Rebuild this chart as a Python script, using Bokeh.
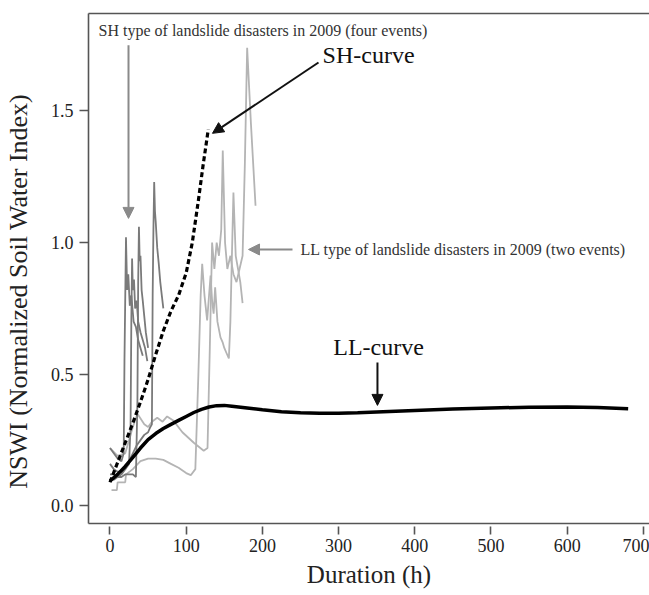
from bokeh.plotting import figure
from bokeh.models import Range1d, FixedTicker, LinearAxis, Label, Arrow, NormalHead, PrintfTickFormatter
from bokeh.embed import file_html
from bokeh.resources import INLINE

# ---------------- data ----------------
x_ticks = [0, 100, 200, 300, 400, 500, 600, 700]
y_ticks = [0.0, 0.5, 1.0, 1.5]

ll_curve_x = [0, 10, 20, 30, 40, 50, 60, 70, 80, 90, 100, 110, 120, 130, 140, 150, 160, 180,
              200, 225, 250, 275, 300, 325, 350, 375, 400, 450, 500, 550, 600, 640, 680]
ll_curve_y = [0.095, 0.12, 0.15, 0.185, 0.22, 0.252, 0.275, 0.294, 0.31, 0.325, 0.34, 0.355,
              0.367, 0.376, 0.381, 0.382, 0.379, 0.372, 0.365, 0.358, 0.354, 0.352, 0.352,
              0.354, 0.357, 0.36, 0.363, 0.368, 0.372, 0.375, 0.376, 0.374, 0.369]

sh_curve_x = [0, 10, 20, 30, 40, 50, 60, 70, 80, 90, 100, 108, 116, 122, 129]
sh_curve_y = [0.09, 0.165, 0.24, 0.315, 0.395, 0.48, 0.575, 0.665, 0.74, 0.80, 0.885, 1.0,
              1.16, 1.29, 1.43]

# SH type events (four)
sh1_x = [0, 5, 10, 15, 18, 19, 21, 22.5, 24, 26, 28, 31, 34, 37, 40, 43]
sh1_y = [0.22, 0.2, 0.18, 0.17, 0.2, 0.55, 1.02, 0.82, 0.88, 0.76, 0.8, 0.7, 0.68, 0.63, 0.6, 0.57]
sh2_x = [0, 5, 10, 15, 20, 25, 27, 28, 29, 30, 31.5, 33, 35, 37, 40, 43, 46, 49]
sh2_y = [0.16, 0.14, 0.13, 0.13, 0.14, 0.16, 0.3, 0.7, 0.94, 0.82, 0.86, 0.75, 0.78, 0.7,
         0.66, 0.63, 0.6, 0.55]
sh3_x = [0, 5, 10, 15, 20, 25, 30, 34, 36, 37, 38, 39, 40, 41.5, 43, 45, 47, 50]
sh3_y = [0.12, 0.12, 0.11, 0.11, 0.12, 0.12, 0.12, 0.11, 0.4, 0.85, 1.06, 0.93, 0.95, 0.82,
         0.78, 0.72, 0.66, 0.6]
sh4_x = [0, 5, 10, 15, 20, 25, 30, 35, 40, 45, 50, 53, 55, 56, 57, 58, 59, 60, 62, 64, 66, 68, 70]
sh4_y = [0.1, 0.1, 0.11, 0.12, 0.14, 0.17, 0.2, 0.23, 0.25, 0.27, 0.28, 0.3, 0.31, 0.8, 1.05,
         1.23, 1.12, 1.08, 0.98, 0.92, 0.85, 0.8, 0.75]

# LL type events (two)
ll1_x = [2, 9, 10, 20, 21, 30, 40, 50, 60, 70, 80, 90, 100, 106, 112, 116, 119, 121, 124,
         127.5, 130, 132, 134, 136, 138, 141, 145, 148, 150, 153, 156, 158, 160, 162, 165,
         168, 171, 174]
ll1_y = [0.06, 0.06, 0.09, 0.09, 0.12, 0.14, 0.17, 0.18, 0.18, 0.175, 0.16, 0.145, 0.125,
         0.117, 0.14, 0.5, 0.8, 0.92, 0.8, 0.705, 0.8, 0.875, 0.78, 0.73, 0.83, 0.7, 0.64,
         0.62, 0.6, 0.58, 0.56, 0.7, 0.95, 1.19, 0.95, 0.9, 0.85, 0.77]
ll2_x = [0, 10, 20, 30, 36, 45, 50, 55, 62, 69, 75, 83, 95, 110, 123, 128, 131, 134, 137,
         140, 143, 146, 148, 151, 154, 158, 162, 166, 170, 174, 177, 180, 185, 191]
ll2_y = [0.22, 0.19, 0.2, 0.3, 0.35, 0.31, 0.3, 0.32, 0.335, 0.32, 0.34, 0.325, 0.28, 0.24,
         0.21, 0.22, 0.6, 1.0, 0.9, 1.0, 0.95, 1.05, 1.35, 1.0, 0.9, 0.95, 0.88, 0.85, 0.9,
         0.95, 1.3, 1.74, 1.45, 1.14]

# annotation texts and anchors (data units)
ann_sh_type = ("SH type of landslide disasters in 2009 (four events)", -15, 1.806)
ann_ll_type = ("LL type of landslide disasters in 2009 (two events)", 250, 0.974)
ann_sh_curve = ("SH-curve", 279, 1.711)
ann_ll_curve = ("LL-curve", 293, 0.602)
x_title = "Duration (h)"
y_title = "NSWI (Normalized Soil Water Index)"

FONT = "'Liberation Serif'"
AX = "#555555"

p = figure(width=649, height=595, output_backend="svg", toolbar_location=None,
           x_range=Range1d(-28.2, 708), y_range=Range1d(-0.0665, 1.870),
           min_border_left=88, min_border_right=0, min_border_top=13, min_border_bottom=72,
           x_axis_location=None, y_axis_location=None)
p.grid.visible = False
p.outline_line_color = None
p.background_fill_color = "white"
p.border_fill_color = "white"

# axes (trailing no-break spaces shift the y title down, as in the reference)
xa = LinearAxis(ticker=FixedTicker(ticks=x_ticks), axis_label=x_title)
ya = LinearAxis(ticker=FixedTicker(ticks=y_ticks), axis_label=y_title + "\u00a0" * 7,
                formatter=PrintfTickFormatter(format="%.1f"))
for ax in (xa, ya):
    ax.axis_line_color = AX
    ax.axis_line_width = 1.6
    ax.major_tick_line_color = AX
    ax.major_tick_line_width = 1.6
    ax.minor_tick_line_color = None
    ax.major_label_text_font = FONT
    ax.major_label_text_font_size = "18px"
    ax.major_label_text_color = "#222222"
    ax.axis_label_text_font = FONT
    ax.axis_label_text_font_style = "normal"
    ax.axis_label_text_color = "#222222"
xa.axis_label_text_font_size = "25px"
ya.axis_label_text_font_size = "26px"
xa.major_tick_in = -3
xa.major_tick_out = 11
xa.major_label_standoff = 4
xa.axis_label_standoff = 6
ya.major_tick_in = 0
ya.major_tick_out = 9
ya.major_label_standoff = 6
ya.axis_label_standoff = 15
p.add_layout(xa, "below")
p.add_layout(ya, "left")

top = LinearAxis(ticker=FixedTicker(ticks=[]), axis_line_color=AX, axis_line_width=1.6,
                 major_tick_line_color=None, minor_tick_line_color=None,
                 major_label_text_font_size="0px", major_label_standoff=0,
                 major_tick_out=0, major_tick_in=0)
p.add_layout(top, "above")

# event lines
for xs, ys in ((ll1_x, ll1_y), (ll2_x, ll2_y)):
    p.line(xs, ys, line_color="#b4b4b4", line_width=1.8)
for xs, ys in ((sh1_x, sh1_y), (sh2_x, sh2_y), (sh3_x, sh3_y), (sh4_x, sh4_y)):
    p.line(xs, ys, line_color="#7a7a7a", line_width=1.8)

# curves
p.line(ll_curve_x, ll_curve_y, line_color="black", line_width=3.5)
p.line(sh_curve_x, sh_curve_y, line_color="black", line_width=3.2, line_dash="5 3")

# annotations
for (txt, x, y), size, col in ((ann_sh_type, "16px", "#333333"), (ann_ll_type, "16px", "#333333"),
                               (ann_sh_curve, "24px", "#111111"), (ann_ll_curve, "24px", "#111111")):
    p.add_layout(Label(x=x, y=y, text=txt, text_font=FONT, text_font_size=size,
                       text_color=col, text_baseline="middle", text_align="left"))

arrows = [
    (24.3, 1.749, 24.3, 1.092, "#8a8a8a", 2),
    (273.6, 1.684, 134.5, 1.415, "#111111", 2),
    (239.5, 0.974, 181.8, 0.974, "#8a8a8a", 2),
    (351, 0.545, 351, 0.382, "#111111", 2),
]
for x0, y0, x1, y1, col, w in arrows:
    p.add_layout(Arrow(x_start=x0, y_start=y0, x_end=x1, y_end=y1, line_color=col, line_width=w,
                       end=NormalHead(size=11, fill_color=col, line_color=col)))

open("out.html", "w").write(file_html(p, INLINE))
